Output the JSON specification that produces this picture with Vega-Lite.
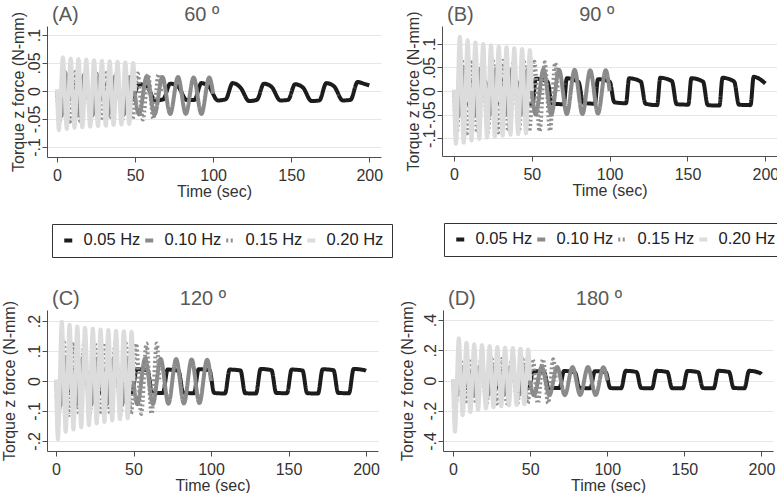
{
"$schema": "https://vega.github.io/schema/vega-lite/v6.json",
"background": "white",
"padding": {"left": 0, "top": 5, "right": 0, "bottom": 0},
"config": {
  "font": "Liberation Sans",
  "view": {"stroke": null},
  "title": {"fontSize": 20, "fontWeight": "normal", "color": "#595959", "anchor": "start", "frame": "group", "dx": 5, "font": "Liberation Sans"},
  "axis": {"labelFont": "Liberation Sans", "titleFont": "Liberation Sans", "labelFontSize": 16, "titleFontSize": 16, "titleFontWeight": "normal", "labelColor": "#333333", "titleColor": "#333333", "domainColor": "#4d4d4d", "tickColor": "#4d4d4d", "tickSize": 5},
  "axisX": {"grid": false, "labelPadding": 5, "titlePadding": 0, "labelFlush": false},
  "axisY": {"grid": true, "gridColor": "#e6e6e6", "labelAngle": -90, "labelAlign": "center", "labelBaseline": "alphabetic", "labelPadding": 3, "titlePadding": 3, "labelOverlap": false, "labelExpr": "datum.value == 0 ? '0' : (datum.value < 0 ? '-' : '') + replace(format(abs(datum.value), '.2~f'), '0.', '.')"}
},
"datasets": {
"A": [
{"f":"0.05 Hz","t":0,"v":0},
{"f":"0.05 Hz","t":3,"v":-0.016},{"f":"0.05 Hz","t":8,"v":-0.015},{"f":"0.05 Hz","t":12.5,"v":0.012},{"f":"0.05 Hz","t":17.5,"v":0.008},
{"f":"0.05 Hz","t":23,"v":-0.017},{"f":"0.05 Hz","t":28,"v":-0.015},{"f":"0.05 Hz","t":32.5,"v":0.013},{"f":"0.05 Hz","t":37.5,"v":0.007},
{"f":"0.05 Hz","t":43,"v":-0.016},{"f":"0.05 Hz","t":48,"v":-0.016},{"f":"0.05 Hz","t":52.5,"v":0.012},{"f":"0.05 Hz","t":57.5,"v":0.008},
{"f":"0.05 Hz","t":63,"v":-0.017},{"f":"0.05 Hz","t":68,"v":-0.015},{"f":"0.05 Hz","t":72.5,"v":0.013},{"f":"0.05 Hz","t":77.5,"v":0.008},
{"f":"0.05 Hz","t":83,"v":-0.016},{"f":"0.05 Hz","t":88,"v":-0.016},{"f":"0.05 Hz","t":92.5,"v":0.014},{"f":"0.05 Hz","t":97.5,"v":0.007},
{"f":"0.05 Hz","t":103,"v":-0.017},{"f":"0.05 Hz","t":108,"v":-0.015},{"f":"0.05 Hz","t":112.5,"v":0.014},{"f":"0.05 Hz","t":117.5,"v":0.006},
{"f":"0.05 Hz","t":123,"v":-0.018},{"f":"0.05 Hz","t":128,"v":-0.016},{"f":"0.05 Hz","t":132.5,"v":0.013},{"f":"0.05 Hz","t":137.5,"v":0.007},
{"f":"0.05 Hz","t":143,"v":-0.017},{"f":"0.05 Hz","t":148,"v":-0.016},{"f":"0.05 Hz","t":152.5,"v":0.012},{"f":"0.05 Hz","t":157.5,"v":0.006},
{"f":"0.05 Hz","t":163,"v":-0.018},{"f":"0.05 Hz","t":168,"v":-0.017},{"f":"0.05 Hz","t":172.5,"v":0.014},{"f":"0.05 Hz","t":177.5,"v":0.008},
{"f":"0.05 Hz","t":183,"v":-0.017},{"f":"0.05 Hz","t":188,"v":-0.016},{"f":"0.05 Hz","t":192.5,"v":0.016},{"f":"0.05 Hz","t":197.5,"v":0.012},
{"f":"0.05 Hz","t":200,"v":0.01},
{"f":"0.10 Hz","t":0,"v":0},
{"f":"0.10 Hz","t":2.5,"v":-0.046},{"f":"0.10 Hz","t":7.5,"v":0.03},{"f":"0.10 Hz","t":12.5,"v":-0.045},{"f":"0.10 Hz","t":17.5,"v":0.029},
{"f":"0.10 Hz","t":22.5,"v":-0.044},{"f":"0.10 Hz","t":27.5,"v":0.028},{"f":"0.10 Hz","t":32.5,"v":-0.043},{"f":"0.10 Hz","t":37.5,"v":0.027},
{"f":"0.10 Hz","t":42.5,"v":-0.043},{"f":"0.10 Hz","t":47.5,"v":0.026},{"f":"0.10 Hz","t":52.5,"v":-0.042},{"f":"0.10 Hz","t":57.5,"v":0.026},
{"f":"0.10 Hz","t":62.5,"v":-0.042},{"f":"0.10 Hz","t":67.5,"v":0.025},{"f":"0.10 Hz","t":72.5,"v":-0.041},{"f":"0.10 Hz","t":77.5,"v":0.025},
{"f":"0.10 Hz","t":82.5,"v":-0.041},{"f":"0.10 Hz","t":87.5,"v":0.024},{"f":"0.10 Hz","t":92.5,"v":-0.041},{"f":"0.10 Hz","t":97.5,"v":0.024},
{"f":"0.10 Hz","t":100,"v":-0.005},
{"f":"0.15 Hz","t":0,"v":0},
{"f":"0.15 Hz","t":1.67,"v":-0.055},{"f":"0.15 Hz","t":5,"v":0.034},{"f":"0.15 Hz","t":8.33,"v":-0.055},{"f":"0.15 Hz","t":11.67,"v":0.034},
{"f":"0.15 Hz","t":15,"v":-0.054},{"f":"0.15 Hz","t":18.33,"v":0.033},{"f":"0.15 Hz","t":21.67,"v":-0.053},{"f":"0.15 Hz","t":25,"v":0.033},
{"f":"0.15 Hz","t":28.33,"v":-0.053},{"f":"0.15 Hz","t":31.67,"v":0.032},{"f":"0.15 Hz","t":35,"v":-0.052},{"f":"0.15 Hz","t":38.33,"v":0.032},
{"f":"0.15 Hz","t":41.67,"v":-0.052},{"f":"0.15 Hz","t":45,"v":0.031},{"f":"0.15 Hz","t":48.33,"v":-0.051},{"f":"0.15 Hz","t":51.67,"v":0.031},
{"f":"0.15 Hz","t":55,"v":-0.051},{"f":"0.15 Hz","t":58.33,"v":0.03},{"f":"0.15 Hz","t":61.67,"v":-0.05},{"f":"0.15 Hz","t":65,"v":0.03},
{"f":"0.15 Hz","t":66.67,"v":0},
{"f":"0.20 Hz","t":0,"v":0.003},
{"f":"0.20 Hz","t":1.25,"v":-0.07},{"f":"0.20 Hz","t":3.75,"v":0.06},{"f":"0.20 Hz","t":6.25,"v":-0.068},{"f":"0.20 Hz","t":8.75,"v":0.058},
{"f":"0.20 Hz","t":11.25,"v":-0.066},{"f":"0.20 Hz","t":13.75,"v":0.057},{"f":"0.20 Hz","t":16.25,"v":-0.065},{"f":"0.20 Hz","t":18.75,"v":0.056},
{"f":"0.20 Hz","t":21.25,"v":-0.064},{"f":"0.20 Hz","t":23.75,"v":0.055},{"f":"0.20 Hz","t":26.25,"v":-0.063},{"f":"0.20 Hz","t":28.75,"v":0.054},
{"f":"0.20 Hz","t":31.25,"v":-0.062},{"f":"0.20 Hz","t":33.75,"v":0.053},{"f":"0.20 Hz","t":36.25,"v":-0.061},{"f":"0.20 Hz","t":38.75,"v":0.052},
{"f":"0.20 Hz","t":41.25,"v":-0.06},{"f":"0.20 Hz","t":43.75,"v":0.051},{"f":"0.20 Hz","t":46.25,"v":-0.059},{"f":"0.20 Hz","t":48.75,"v":0.05},
{"f":"0.20 Hz","t":50,"v":0}
],
"B": [
{"f":"0.05 Hz","t":0,"v":0},
{"f":"0.05 Hz","t":3,"v":-0.026},{"f":"0.05 Hz","t":10.5,"v":-0.027},{"f":"0.05 Hz","t":12.5,"v":0.026},{"f":"0.05 Hz","t":20,"v":0.02},
{"f":"0.05 Hz","t":23,"v":-0.025},{"f":"0.05 Hz","t":30.5,"v":-0.028},{"f":"0.05 Hz","t":32.5,"v":0.027},{"f":"0.05 Hz","t":40,"v":0.021},
{"f":"0.05 Hz","t":43,"v":-0.026},{"f":"0.05 Hz","t":50.5,"v":-0.027},{"f":"0.05 Hz","t":52.5,"v":0.026},{"f":"0.05 Hz","t":60,"v":0.02},
{"f":"0.05 Hz","t":63,"v":-0.027},{"f":"0.05 Hz","t":70.5,"v":-0.028},{"f":"0.05 Hz","t":72.5,"v":0.027},{"f":"0.05 Hz","t":80,"v":0.019},
{"f":"0.05 Hz","t":83,"v":-0.025},{"f":"0.05 Hz","t":90.5,"v":-0.027},{"f":"0.05 Hz","t":92.5,"v":0.025},{"f":"0.05 Hz","t":100,"v":0.02},
{"f":"0.05 Hz","t":103,"v":-0.024},{"f":"0.05 Hz","t":110.5,"v":-0.026},{"f":"0.05 Hz","t":112.5,"v":0.027},{"f":"0.05 Hz","t":120,"v":0.02},
{"f":"0.05 Hz","t":123,"v":-0.027},{"f":"0.05 Hz","t":130.5,"v":-0.03},{"f":"0.05 Hz","t":132.5,"v":0.028},{"f":"0.05 Hz","t":140,"v":0.021},
{"f":"0.05 Hz","t":143,"v":-0.028},{"f":"0.05 Hz","t":150.5,"v":-0.029},{"f":"0.05 Hz","t":152.5,"v":0.027},{"f":"0.05 Hz","t":160,"v":0.02},
{"f":"0.05 Hz","t":163,"v":-0.03},{"f":"0.05 Hz","t":170.5,"v":-0.031},{"f":"0.05 Hz","t":172.5,"v":0.028},{"f":"0.05 Hz","t":180,"v":0.02},
{"f":"0.05 Hz","t":183,"v":-0.029},{"f":"0.05 Hz","t":190.5,"v":-0.03},{"f":"0.05 Hz","t":192.5,"v":0.03},{"f":"0.05 Hz","t":200,"v":0.016},
{"f":"0.10 Hz","t":0,"v":0},
{"f":"0.10 Hz","t":2.5,"v":-0.055},{"f":"0.10 Hz","t":7.5,"v":0.05},{"f":"0.10 Hz","t":12.5,"v":-0.054},{"f":"0.10 Hz","t":17.5,"v":0.049},
{"f":"0.10 Hz","t":22.5,"v":-0.053},{"f":"0.10 Hz","t":27.5,"v":0.048},{"f":"0.10 Hz","t":32.5,"v":-0.052},{"f":"0.10 Hz","t":37.5,"v":0.047},
{"f":"0.10 Hz","t":42.5,"v":-0.051},{"f":"0.10 Hz","t":47.5,"v":0.046},{"f":"0.10 Hz","t":52.5,"v":-0.05},{"f":"0.10 Hz","t":57.5,"v":0.046},
{"f":"0.10 Hz","t":62.5,"v":-0.05},{"f":"0.10 Hz","t":67.5,"v":0.045},{"f":"0.10 Hz","t":72.5,"v":-0.049},{"f":"0.10 Hz","t":77.5,"v":0.045},
{"f":"0.10 Hz","t":82.5,"v":-0.049},{"f":"0.10 Hz","t":87.5,"v":0.044},{"f":"0.10 Hz","t":92.5,"v":-0.048},{"f":"0.10 Hz","t":97.5,"v":0.044},
{"f":"0.10 Hz","t":100,"v":0},
{"f":"0.15 Hz","t":0,"v":0},
{"f":"0.15 Hz","t":1.67,"v":-0.09},{"f":"0.15 Hz","t":5,"v":0.066},{"f":"0.15 Hz","t":8.33,"v":-0.09},{"f":"0.15 Hz","t":11.67,"v":0.066},
{"f":"0.15 Hz","t":15,"v":-0.089},{"f":"0.15 Hz","t":18.33,"v":0.065},{"f":"0.15 Hz","t":21.67,"v":-0.088},{"f":"0.15 Hz","t":25,"v":0.064},
{"f":"0.15 Hz","t":28.33,"v":-0.088},{"f":"0.15 Hz","t":31.67,"v":0.064},{"f":"0.15 Hz","t":35,"v":-0.087},{"f":"0.15 Hz","t":38.33,"v":0.063},
{"f":"0.15 Hz","t":41.67,"v":-0.087},{"f":"0.15 Hz","t":45,"v":0.062},{"f":"0.15 Hz","t":48.33,"v":-0.086},{"f":"0.15 Hz","t":51.67,"v":0.062},
{"f":"0.15 Hz","t":55,"v":-0.086},{"f":"0.15 Hz","t":58.33,"v":0.061},{"f":"0.15 Hz","t":61.67,"v":-0.085},{"f":"0.15 Hz","t":65,"v":0.06},
{"f":"0.15 Hz","t":66.67,"v":0},
{"f":"0.20 Hz","t":0,"v":0.003},
{"f":"0.20 Hz","t":1.25,"v":-0.112},{"f":"0.20 Hz","t":3.75,"v":0.115},{"f":"0.20 Hz","t":6.25,"v":-0.11},{"f":"0.20 Hz","t":8.75,"v":0.108},
{"f":"0.20 Hz","t":11.25,"v":-0.105},{"f":"0.20 Hz","t":13.75,"v":0.103},{"f":"0.20 Hz","t":16.25,"v":-0.102},{"f":"0.20 Hz","t":18.75,"v":0.1},
{"f":"0.20 Hz","t":21.25,"v":-0.099},{"f":"0.20 Hz","t":23.75,"v":0.097},{"f":"0.20 Hz","t":26.25,"v":-0.097},{"f":"0.20 Hz","t":28.75,"v":0.095},
{"f":"0.20 Hz","t":31.25,"v":-0.095},{"f":"0.20 Hz","t":33.75,"v":0.093},{"f":"0.20 Hz","t":36.25,"v":-0.093},{"f":"0.20 Hz","t":38.75,"v":0.091},
{"f":"0.20 Hz","t":41.25,"v":-0.092},{"f":"0.20 Hz","t":43.75,"v":0.089},{"f":"0.20 Hz","t":46.25,"v":-0.09},{"f":"0.20 Hz","t":48.75,"v":0.087},
{"f":"0.20 Hz","t":50,"v":0}
],
"C": [
{"f":"0.05 Hz","t":0,"v":0},
{"f":"0.05 Hz","t":2,"v":-0.038},{"f":"0.05 Hz","t":9,"v":-0.04},{"f":"0.05 Hz","t":12,"v":0.039},{"f":"0.05 Hz","t":19,"v":0.036},
{"f":"0.05 Hz","t":22,"v":-0.039},{"f":"0.05 Hz","t":29,"v":-0.04},{"f":"0.05 Hz","t":32,"v":0.038},{"f":"0.05 Hz","t":39,"v":0.035},
{"f":"0.05 Hz","t":42,"v":-0.038},{"f":"0.05 Hz","t":49,"v":-0.041},{"f":"0.05 Hz","t":52,"v":0.039},{"f":"0.05 Hz","t":59,"v":0.036},
{"f":"0.05 Hz","t":62,"v":-0.04},{"f":"0.05 Hz","t":69,"v":-0.04},{"f":"0.05 Hz","t":72,"v":0.038},{"f":"0.05 Hz","t":79,"v":0.034},
{"f":"0.05 Hz","t":82,"v":-0.039},{"f":"0.05 Hz","t":89,"v":-0.041},{"f":"0.05 Hz","t":92,"v":0.039},{"f":"0.05 Hz","t":99,"v":0.036},
{"f":"0.05 Hz","t":102,"v":-0.04},{"f":"0.05 Hz","t":109,"v":-0.042},{"f":"0.05 Hz","t":112,"v":0.038},{"f":"0.05 Hz","t":119,"v":0.035},
{"f":"0.05 Hz","t":122,"v":-0.041},{"f":"0.05 Hz","t":129,"v":-0.042},{"f":"0.05 Hz","t":132,"v":0.04},{"f":"0.05 Hz","t":139,"v":0.036},
{"f":"0.05 Hz","t":142,"v":-0.04},{"f":"0.05 Hz","t":149,"v":-0.041},{"f":"0.05 Hz","t":152,"v":0.038},{"f":"0.05 Hz","t":159,"v":0.035},
{"f":"0.05 Hz","t":162,"v":-0.041},{"f":"0.05 Hz","t":169,"v":-0.042},{"f":"0.05 Hz","t":172,"v":0.039},{"f":"0.05 Hz","t":179,"v":0.036},
{"f":"0.05 Hz","t":182,"v":-0.04},{"f":"0.05 Hz","t":189,"v":-0.041},{"f":"0.05 Hz","t":192,"v":0.04},{"f":"0.05 Hz","t":199,"v":0.036},
{"f":"0.05 Hz","t":200,"v":0.034},
{"f":"0.10 Hz","t":0,"v":0},
{"f":"0.10 Hz","t":2.5,"v":-0.085},{"f":"0.10 Hz","t":7.5,"v":0.08},{"f":"0.10 Hz","t":12.5,"v":-0.083},{"f":"0.10 Hz","t":17.5,"v":0.079},
{"f":"0.10 Hz","t":22.5,"v":-0.081},{"f":"0.10 Hz","t":27.5,"v":0.078},{"f":"0.10 Hz","t":32.5,"v":-0.08},{"f":"0.10 Hz","t":37.5,"v":0.077},
{"f":"0.10 Hz","t":42.5,"v":-0.079},{"f":"0.10 Hz","t":47.5,"v":0.076},{"f":"0.10 Hz","t":52.5,"v":-0.078},{"f":"0.10 Hz","t":57.5,"v":0.075},
{"f":"0.10 Hz","t":62.5,"v":-0.077},{"f":"0.10 Hz","t":67.5,"v":0.074},{"f":"0.10 Hz","t":72.5,"v":-0.076},{"f":"0.10 Hz","t":77.5,"v":0.073},
{"f":"0.10 Hz","t":82.5,"v":-0.075},{"f":"0.10 Hz","t":87.5,"v":0.072},{"f":"0.10 Hz","t":92.5,"v":-0.074},{"f":"0.10 Hz","t":97.5,"v":0.071},
{"f":"0.10 Hz","t":100,"v":0},
{"f":"0.15 Hz","t":0,"v":0},
{"f":"0.15 Hz","t":1.67,"v":-0.115},{"f":"0.15 Hz","t":5,"v":0.13},{"f":"0.15 Hz","t":8.33,"v":-0.114},{"f":"0.15 Hz","t":11.67,"v":0.129},
{"f":"0.15 Hz","t":15,"v":-0.113},{"f":"0.15 Hz","t":18.33,"v":0.128},{"f":"0.15 Hz","t":21.67,"v":-0.112},{"f":"0.15 Hz","t":25,"v":0.127},
{"f":"0.15 Hz","t":28.33,"v":-0.112},{"f":"0.15 Hz","t":31.67,"v":0.127},{"f":"0.15 Hz","t":35,"v":-0.111},{"f":"0.15 Hz","t":38.33,"v":0.126},
{"f":"0.15 Hz","t":41.67,"v":-0.111},{"f":"0.15 Hz","t":45,"v":0.126},{"f":"0.15 Hz","t":48.33,"v":-0.11},{"f":"0.15 Hz","t":51.67,"v":0.125},
{"f":"0.15 Hz","t":55,"v":-0.11},{"f":"0.15 Hz","t":58.33,"v":0.125},{"f":"0.15 Hz","t":61.67,"v":-0.11},{"f":"0.15 Hz","t":65,"v":0.125},
{"f":"0.15 Hz","t":66.67,"v":0},
{"f":"0.20 Hz","t":0,"v":0.005},
{"f":"0.20 Hz","t":1.25,"v":-0.195},{"f":"0.20 Hz","t":3.75,"v":0.198},{"f":"0.20 Hz","t":6.25,"v":-0.17},{"f":"0.20 Hz","t":8.75,"v":0.188},
{"f":"0.20 Hz","t":11.25,"v":-0.162},{"f":"0.20 Hz","t":13.75,"v":0.182},{"f":"0.20 Hz","t":16.25,"v":-0.155},{"f":"0.20 Hz","t":18.75,"v":0.178},
{"f":"0.20 Hz","t":21.25,"v":-0.148},{"f":"0.20 Hz","t":23.75,"v":0.175},{"f":"0.20 Hz","t":26.25,"v":-0.142},{"f":"0.20 Hz","t":28.75,"v":0.172},
{"f":"0.20 Hz","t":31.25,"v":-0.137},{"f":"0.20 Hz","t":33.75,"v":0.17},{"f":"0.20 Hz","t":36.25,"v":-0.132},{"f":"0.20 Hz","t":38.75,"v":0.168},
{"f":"0.20 Hz","t":41.25,"v":-0.128},{"f":"0.20 Hz","t":43.75,"v":0.166},{"f":"0.20 Hz","t":46.25,"v":-0.125},{"f":"0.20 Hz","t":48.75,"v":0.165},
{"f":"0.20 Hz","t":50,"v":0}
],
"D": [
{"f":"0.05 Hz","t":0,"v":0},
{"f":"0.05 Hz","t":2,"v":-0.048},{"f":"0.05 Hz","t":9,"v":-0.05},{"f":"0.05 Hz","t":12,"v":0.062},{"f":"0.05 Hz","t":19,"v":0.055},
{"f":"0.05 Hz","t":22,"v":-0.049},{"f":"0.05 Hz","t":29,"v":-0.05},{"f":"0.05 Hz","t":32,"v":0.063},{"f":"0.05 Hz","t":39,"v":0.054},
{"f":"0.05 Hz","t":42,"v":-0.048},{"f":"0.05 Hz","t":49,"v":-0.051},{"f":"0.05 Hz","t":52,"v":0.062},{"f":"0.05 Hz","t":59,"v":0.055},
{"f":"0.05 Hz","t":62,"v":-0.05},{"f":"0.05 Hz","t":69,"v":-0.05},{"f":"0.05 Hz","t":72,"v":0.063},{"f":"0.05 Hz","t":79,"v":0.054},
{"f":"0.05 Hz","t":82,"v":-0.049},{"f":"0.05 Hz","t":89,"v":-0.051},{"f":"0.05 Hz","t":92,"v":0.062},{"f":"0.05 Hz","t":99,"v":0.055},
{"f":"0.05 Hz","t":102,"v":-0.05},{"f":"0.05 Hz","t":109,"v":-0.052},{"f":"0.05 Hz","t":112,"v":0.064},{"f":"0.05 Hz","t":119,"v":0.056},
{"f":"0.05 Hz","t":122,"v":-0.05},{"f":"0.05 Hz","t":129,"v":-0.052},{"f":"0.05 Hz","t":132,"v":0.064},{"f":"0.05 Hz","t":139,"v":0.056},
{"f":"0.05 Hz","t":142,"v":-0.051},{"f":"0.05 Hz","t":149,"v":-0.052},{"f":"0.05 Hz","t":152,"v":0.063},{"f":"0.05 Hz","t":159,"v":0.055},
{"f":"0.05 Hz","t":162,"v":-0.05},{"f":"0.05 Hz","t":169,"v":-0.052},{"f":"0.05 Hz","t":172,"v":0.064},{"f":"0.05 Hz","t":179,"v":0.056},
{"f":"0.05 Hz","t":182,"v":-0.05},{"f":"0.05 Hz","t":189,"v":-0.051},{"f":"0.05 Hz","t":192,"v":0.064},{"f":"0.05 Hz","t":199,"v":0.05},
{"f":"0.05 Hz","t":200,"v":0.042},
{"f":"0.10 Hz","t":0,"v":0},
{"f":"0.10 Hz","t":2.5,"v":-0.1},{"f":"0.10 Hz","t":7.5,"v":0.095},{"f":"0.10 Hz","t":12.5,"v":-0.1},{"f":"0.10 Hz","t":17.5,"v":0.094},
{"f":"0.10 Hz","t":22.5,"v":-0.099},{"f":"0.10 Hz","t":27.5,"v":0.093},{"f":"0.10 Hz","t":32.5,"v":-0.099},{"f":"0.10 Hz","t":37.5,"v":0.092},
{"f":"0.10 Hz","t":42.5,"v":-0.098},{"f":"0.10 Hz","t":47.5,"v":0.091},{"f":"0.10 Hz","t":52.5,"v":-0.098},{"f":"0.10 Hz","t":57.5,"v":0.09},
{"f":"0.10 Hz","t":62.5,"v":-0.097},{"f":"0.10 Hz","t":67.5,"v":0.09},{"f":"0.10 Hz","t":72.5,"v":-0.097},{"f":"0.10 Hz","t":77.5,"v":0.089},
{"f":"0.10 Hz","t":82.5,"v":-0.096},{"f":"0.10 Hz","t":87.5,"v":0.089},{"f":"0.10 Hz","t":92.5,"v":-0.096},{"f":"0.10 Hz","t":97.5,"v":0.088},
{"f":"0.10 Hz","t":100,"v":0},
{"f":"0.15 Hz","t":0,"v":0},
{"f":"0.15 Hz","t":1.67,"v":-0.155},{"f":"0.15 Hz","t":5,"v":0.145},{"f":"0.15 Hz","t":8.33,"v":-0.155},{"f":"0.15 Hz","t":11.67,"v":0.145},
{"f":"0.15 Hz","t":15,"v":-0.154},{"f":"0.15 Hz","t":18.33,"v":0.144},{"f":"0.15 Hz","t":21.67,"v":-0.153},{"f":"0.15 Hz","t":25,"v":0.143},
{"f":"0.15 Hz","t":28.33,"v":-0.153},{"f":"0.15 Hz","t":31.67,"v":0.143},{"f":"0.15 Hz","t":35,"v":-0.152},{"f":"0.15 Hz","t":38.33,"v":0.142},
{"f":"0.15 Hz","t":41.67,"v":-0.152},{"f":"0.15 Hz","t":45,"v":0.142},{"f":"0.15 Hz","t":48.33,"v":-0.151},{"f":"0.15 Hz","t":51.67,"v":0.141},
{"f":"0.15 Hz","t":55,"v":-0.151},{"f":"0.15 Hz","t":58.33,"v":0.141},{"f":"0.15 Hz","t":61.67,"v":-0.15},{"f":"0.15 Hz","t":65,"v":0.14},
{"f":"0.15 Hz","t":66.67,"v":0},
{"f":"0.20 Hz","t":0,"v":0.01},
{"f":"0.20 Hz","t":1.25,"v":-0.34},{"f":"0.20 Hz","t":3.75,"v":0.28},{"f":"0.20 Hz","t":6.25,"v":-0.23},{"f":"0.20 Hz","t":8.75,"v":0.25},
{"f":"0.20 Hz","t":11.25,"v":-0.21},{"f":"0.20 Hz","t":13.75,"v":0.24},{"f":"0.20 Hz","t":16.25,"v":-0.195},{"f":"0.20 Hz","t":18.75,"v":0.235},
{"f":"0.20 Hz","t":21.25,"v":-0.185},{"f":"0.20 Hz","t":23.75,"v":0.228},{"f":"0.20 Hz","t":26.25,"v":-0.178},{"f":"0.20 Hz","t":28.75,"v":0.222},
{"f":"0.20 Hz","t":31.25,"v":-0.172},{"f":"0.20 Hz","t":33.75,"v":0.218},{"f":"0.20 Hz","t":36.25,"v":-0.166},{"f":"0.20 Hz","t":38.75,"v":0.215},
{"f":"0.20 Hz","t":41.25,"v":-0.162},{"f":"0.20 Hz","t":43.75,"v":0.21},{"f":"0.20 Hz","t":46.25,"v":-0.158},{"f":"0.20 Hz","t":48.75,"v":0.205},
{"f":"0.20 Hz","t":50,"v":0}
]
},
"vconcat": [
{"hconcat": [
  {"width": 334, "height": 131, "data": {"name": "A"},
   "title": {"text": "(A)\u00a0\u00a0\u00a0\u00a0\u00a0\u00a0\u00a0\u00a0\u00a0\u00a0\u00a0\u00a0\u00a0\u00a0\u00a0\u00a0\u00a0\u00a0\u00a060 º", "offset": -14},
   "mark": {"type": "line", "interpolate": "monotone"},
   "encoding": {
    "x": {"field": "t", "type": "quantitative", "scale": {"domain": [-6.4, 207.5], "nice": false, "zero": false}, "axis": {"values": [0, 50, 100, 150, 200], "title": "Time (sec)"}},
    "y": {"field": "v", "type": "quantitative", "scale": {"domain": [-0.118, 0.116], "nice": false, "zero": false}, "axis": {"values": [-0.1, -0.05, 0, 0.05, 0.1], "title": "Torque z force (N-mm)", "titlePadding": 0}},
    "strokeWidth": {"field": "f", "type": "nominal", "scale": {"domain": ["0.05 Hz", "0.10 Hz", "0.15 Hz", "0.20 Hz"], "range": [4, 4, 4, 5]}, "legend": null},
    "color": {"field": "f", "type": "nominal", "scale": {"domain": ["0.05 Hz", "0.10 Hz", "0.15 Hz", "0.20 Hz"], "range": ["#1c1c1c", "#8a8a8a", "#8f8f8f", "#dcdcdc"]},
      "legend": {"title": null, "orient": "none", "legendX": 5, "legendY": 198, "direction": "horizontal", "symbolType": "stroke", "symbolSize": 64, "symbolStrokeWidth": 4, "labelFontSize": 16.5, "labelColor": "#222222", "labelOffset": 7, "columnPadding": -10, "padding": 8, "strokeColor": "#333333", "fillColor": "white"}},
    "strokeDash": {"field": "f", "type": "nominal", "scale": {"domain": ["0.05 Hz", "0.10 Hz", "0.15 Hz", "0.20 Hz"], "range": [[1, 0], [1, 0], [2, 2.5], [1, 0]]},
      "legend": {"title": null, "orient": "none", "legendX": 5, "legendY": 198, "direction": "horizontal", "symbolType": "stroke", "symbolSize": 64, "symbolStrokeWidth": 4, "labelFontSize": 16.5, "labelColor": "#222222", "labelOffset": 7, "columnPadding": -10, "padding": 8, "strokeColor": "#333333", "fillColor": "white"}}
   }},
  {"width": 335, "height": 130, "data": {"name": "B"},
   "title": {"text": "(B)\u00a0\u00a0\u00a0\u00a0\u00a0\u00a0\u00a0\u00a0\u00a0\u00a0\u00a0\u00a0\u00a0\u00a0\u00a0\u00a0\u00a0\u00a0\u00a090 º", "offset": -14.5},
   "mark": {"type": "line", "interpolate": "monotone"},
   "encoding": {
    "x": {"field": "t", "type": "quantitative", "scale": {"domain": [-7.7, 207.5], "nice": false, "zero": false}, "axis": {"values": [0, 50, 100, 150, 200], "title": "Time (sec)"}},
    "y": {"field": "v", "type": "quantitative", "scale": {"domain": [-0.138, 0.138], "nice": false, "zero": false}, "axis": {"values": [-0.1, -0.05, 0, 0.05, 0.1], "title": "Torque z force (N-mm)", "titlePadding": 0}},
    "strokeWidth": {"field": "f", "type": "nominal", "scale": {"domain": ["0.05 Hz", "0.10 Hz", "0.15 Hz", "0.20 Hz"], "range": [4, 4, 4, 5]}, "legend": null},
    "color": {"field": "f", "type": "nominal", "scale": {"domain": ["0.05 Hz", "0.10 Hz", "0.15 Hz", "0.20 Hz"], "range": ["#1c1c1c", "#8a8a8a", "#8f8f8f", "#dcdcdc"]},
      "legend": {"title": null, "orient": "none", "legendX": 2, "legendY": 197, "direction": "horizontal", "symbolType": "stroke", "symbolSize": 64, "symbolStrokeWidth": 4, "labelFontSize": 16.5, "labelColor": "#222222", "labelOffset": 7, "columnPadding": -10, "padding": 8, "strokeColor": "#333333", "fillColor": "white"}},
    "strokeDash": {"field": "f", "type": "nominal", "scale": {"domain": ["0.05 Hz", "0.10 Hz", "0.15 Hz", "0.20 Hz"], "range": [[1, 0], [1, 0], [2, 2.5], [1, 0]]},
      "legend": {"title": null, "orient": "none", "legendX": 2, "legendY": 197, "direction": "horizontal", "symbolType": "stroke", "symbolSize": 64, "symbolStrokeWidth": 4, "labelFontSize": 16.5, "labelColor": "#222222", "labelOffset": 7, "columnPadding": -10, "padding": 8, "strokeColor": "#333333", "fillColor": "white"}}
   }}
 ],
 "spacing": 11,
 "resolve": {"legend": {"color": "independent", "strokeDash": "independent"}}},
{"hconcat": [
  {"width": 331, "height": 141, "data": {"name": "C"},
   "title": {"text": "(C)\u00a0\u00a0\u00a0\u00a0\u00a0\u00a0\u00a0\u00a0\u00a0\u00a0\u00a0\u00a0\u00a0\u00a0\u00a0\u00a0\u00a0\u00a0120 º", "offset": -9},
   "mark": {"type": "line", "interpolate": "monotone"},
   "encoding": {
    "x": {"field": "t", "type": "quantitative", "scale": {"domain": [-5.8, 207.7], "nice": false, "zero": false}, "axis": {"values": [0, 50, 100, 150, 200], "title": "Time (sec)"}},
    "y": {"field": "v", "type": "quantitative", "scale": {"domain": [-0.234, 0.237], "nice": false, "zero": false}, "axis": {"values": [-0.2, -0.1, 0, 0.1, 0.2], "title": "Torque z force (N-mm)", "titlePadding": 9}},
    "strokeWidth": {"field": "f", "type": "nominal", "scale": {"domain": ["0.05 Hz", "0.10 Hz", "0.15 Hz", "0.20 Hz"], "range": [4, 4, 4, 5]}, "legend": null},
    "color": {"field": "f", "type": "nominal", "scale": {"domain": ["0.05 Hz", "0.10 Hz", "0.15 Hz", "0.20 Hz"], "range": ["#1c1c1c", "#8a8a8a", "#8f8f8f", "#dcdcdc"]}, "legend": null},
    "strokeDash": {"field": "f", "type": "nominal", "scale": {"domain": ["0.05 Hz", "0.10 Hz", "0.15 Hz", "0.20 Hz"], "range": [[1, 0], [1, 0], [2, 2.5], [1, 0]]}, "legend": null}
   }},
  {"width": 330, "height": 141, "data": {"name": "D"},
   "title": {"text": "(D)\u00a0\u00a0\u00a0\u00a0\u00a0\u00a0\u00a0\u00a0\u00a0\u00a0\u00a0\u00a0\u00a0\u00a0\u00a0\u00a0\u00a0\u00a0180 º", "offset": -9},
   "mark": {"type": "line", "interpolate": "monotone"},
   "encoding": {
    "x": {"field": "t", "type": "quantitative", "scale": {"domain": [-6.5, 207.5], "nice": false, "zero": false}, "axis": {"values": [0, 50, 100, 150, 200], "title": "Time (sec)"}},
    "y": {"field": "v", "type": "quantitative", "scale": {"domain": [-0.467, 0.467], "nice": false, "zero": false}, "axis": {"values": [-0.4, -0.2, 0, 0.2, 0.4], "title": "Torque z force (N-mm)", "titlePadding": 7}},
    "strokeWidth": {"field": "f", "type": "nominal", "scale": {"domain": ["0.05 Hz", "0.10 Hz", "0.15 Hz", "0.20 Hz"], "range": [4, 4, 4, 5]}, "legend": null},
    "color": {"field": "f", "type": "nominal", "scale": {"domain": ["0.05 Hz", "0.10 Hz", "0.15 Hz", "0.20 Hz"], "range": ["#1c1c1c", "#8a8a8a", "#8f8f8f", "#dcdcdc"]}, "legend": null},
    "strokeDash": {"field": "f", "type": "nominal", "scale": {"domain": ["0.05 Hz", "0.10 Hz", "0.15 Hz", "0.20 Hz"], "range": [[1, 0], [1, 0], [2, 2.5], [1, 0]]}, "legend": null}
   }}
 ],
 "spacing": 18,
 "resolve": {"legend": {"color": "independent", "strokeDash": "independent"}}}
],
"spacing": 31,
"resolve": {"legend": {"color": "independent", "strokeDash": "independent"}}
}
